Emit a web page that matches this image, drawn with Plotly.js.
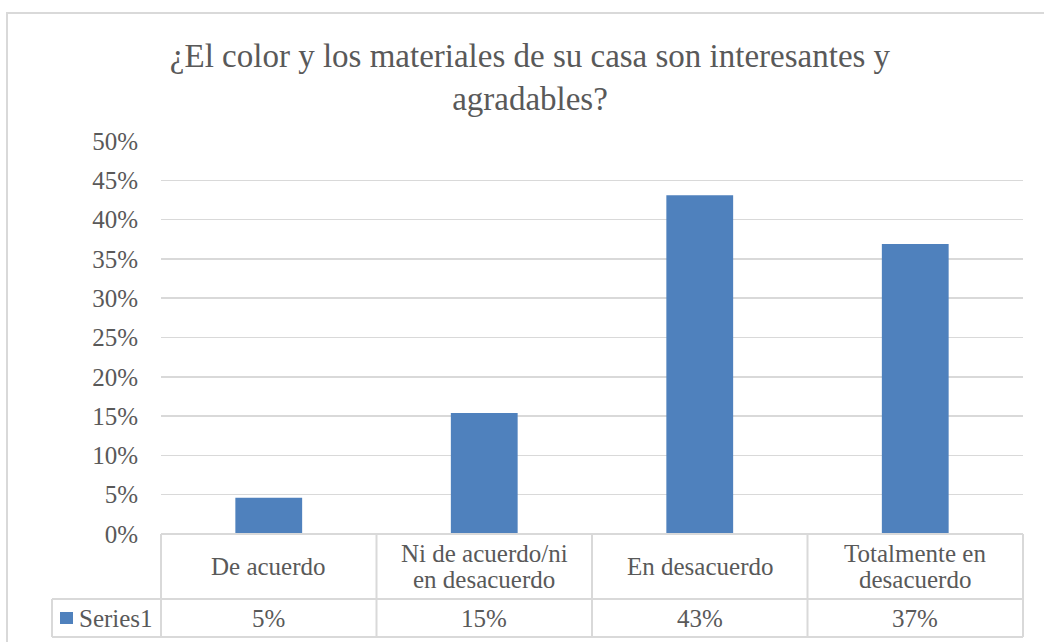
<!DOCTYPE html>
<html>
<head>
<meta charset="utf-8">
<script src="https://cdn.plot.ly/plotly-3.0.1.min.js"></script>
<style>
  html, body { margin: 0; padding: 0; background: #ffffff; }
  #wrap { position: relative; width: 1044px; height: 642px; overflow: hidden; }
  #frame { position: absolute; left: 6px; top: 12px; width: 1100px; height: 700px;
           border-left: 2px solid #D9D9D9; border-top: 2px solid #D9D9D9; }
  #chart { position: absolute; left: 0; top: 0; width: 1044px; height: 642px; }
</style>
</head>
<body>
<div id="wrap">
  <div id="frame"></div>
  <div id="chart"></div>
</div>
<script>
// ---- data ----
const chartTitle = "¿El color y los materiales de su casa son interesantes y<br>agradables?";
const categories = ["De acuerdo", "Ni de acuerdo/ni en desacuerdo", "En desacuerdo", "Totalmente en desacuerdo"];
const categoryLabelLines = [["De acuerdo"], ["Ni de acuerdo/ni", "en desacuerdo"], ["En desacuerdo"], ["Totalmente en", "desacuerdo"]];
const seriesName = "Series1";
const values = [0.046, 0.154, 0.431, 0.369];
const yTickValues = [0, 0.05, 0.10, 0.15, 0.20, 0.25, 0.30, 0.35, 0.40, 0.45, 0.50];

// ---- style ----
const FONT = "Liberation Serif, DejaVu Serif, serif";
const TEXT = "#595959";
const GRID = "#D9D9D9";
const BAR = "#4F81BD";
const TFS = 25;                      // table / tick font size

const plotH = 393;                  // plot area height in px (for table rows)
const row1 = -65 / plotH;           // bottom of category row (paper)
const row2 = -103 / plotH;          // bottom of value row (paper)
const legendLeft = -109 / 862;      // left edge of legend cell (paper)

const shapes = [];
function line(x0, y0, x1, y1) {
  shapes.push({type: "line", xref: "paper", yref: "paper", x0, y0, x1, y1,
               line: {color: GRID, width: 2}, layer: "above"});
}
line(0, 0, 1, 0);
line(legendLeft, row1, 1, row1);
line(legendLeft, row2, 1, row2);
for (let i = 0; i <= categories.length; i++) {
  line(i / categories.length, 0, i / categories.length, row2);
}
line(legendLeft, row1, legendLeft, row2);
shapes.push({type: "rect", xref: "paper", yref: "paper",
             x0: -101 / 862, x1: -88 / 862, y0: -90 / plotH, y1: -78 / plotH,
             fillcolor: BAR, line: {width: 0}, layer: "above"});

const annotations = [];
const lineGap = 26;
categories.forEach((c, i) => {
  const lines = categoryLabelLines[i];
  lines.forEach((t, k) => {
    const shift = ((lines.length - 1) / 2 - k) * lineGap;
    annotations.push({xref: "x", yref: "paper", x: c, y: row1 / 2, yshift: shift, text: t,
                      showarrow: false, xanchor: "center", yanchor: "middle",
                      font: {family: FONT, size: TFS, color: TEXT}});
  });
  annotations.push({xref: "x", yref: "paper", x: c, y: (row1 + row2) / 2,
                    text: Math.round(values[i] * 100) + "%",
                    showarrow: false, xanchor: "center", yanchor: "middle",
                    font: {family: FONT, size: TFS, color: TEXT}});
});
annotations.push({xref: "paper", yref: "paper", x: -84 / 862, y: (row1 + row2) / 2,
                  text: seriesName, showarrow: false, xanchor: "left", yanchor: "middle",
                  font: {family: FONT, size: TFS, color: TEXT}});

const trace = {
  type: "bar",
  x: categories,
  y: values,
  name: seriesName,
  width: 0.31,
  marker: {color: BAR, line: {width: 0}},
  hoverinfo: "none"
};

const layout = {
  width: 1044,
  height: 642,
  paper_bgcolor: "rgba(0,0,0,0)",
  plot_bgcolor: "rgba(0,0,0,0)",
  margin: {l: 161, r: 21, t: 141, b: 108, pad: 0},
  showlegend: false,
  title: {
    text: chartTitle,
    x: 530 / 1044, xref: "container", xanchor: "center",
    y: 1 - 67 / 642, yref: "container", yanchor: "top",
    font: {family: FONT, size: 33, color: TEXT}
  },
  xaxis: {
    type: "category",
    showticklabels: false,
    showgrid: false,
    zeroline: false,
    showline: false,
    ticks: "",
    range: [-0.5, 3.5]
  },
  yaxis: {
    range: [0, 0.5],
    tickvals: yTickValues,
    tickformat: ".0%",
    showgrid: true,
    gridcolor: GRID,
    gridwidth: 1.5,
    zeroline: false,
    showline: false,
    ticks: "outside",
    ticklen: 17,
    tickcolor: "rgba(0,0,0,0)",
    tickfont: {family: FONT, size: TFS, color: TEXT}
  },
  shapes: shapes,
  annotations: annotations
};

Plotly.newPlot("chart", [trace], layout, {displayModeBar: false, staticPlot: true});
</script>
</body>
</html>
